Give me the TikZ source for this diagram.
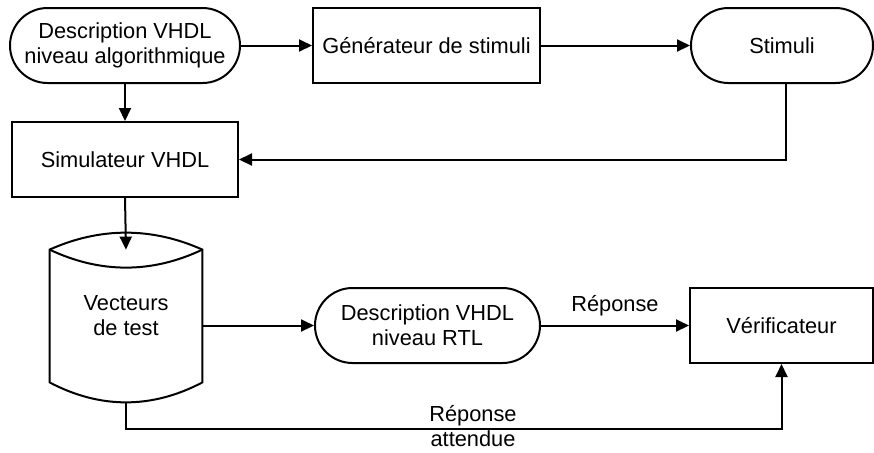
\documentclass[tikz,border=0pt]{standalone}
\usepackage{fontspec}
\setmainfont{Liberation Sans}
\usetikzlibrary{arrows.meta,shapes.misc}

\tikzset{
box/.style={rectangle, draw=black, line width=1pt, inner sep=0pt,
minimum height=37.5pt, font=\fontsize{10.9}{12.5}\selectfont, align=center},
term/.style={box, rounded rectangle},
arr/.style={line width=1pt, -{Triangle[length=6.5pt,width=6pt]}},
lbl/.style={font=\fontsize{10.9}{12.5}\selectfont, align=center, inner sep=0pt}
}

\begin{document}
\begin{tikzpicture}[x=0.5pt, y=-0.5pt]
% 1px = 0.5pt, y grows downwards
\useasboundingbox (0, 0) rectangle (874, 452);
\node[term, minimum width=115pt] (algo) at (125, 45.5) {Description VHDL\\niveau algorithmique};
\node[box, minimum width=113.5pt] (gen) at (426.5, 45.5) {Générateur de stimuli};
\node[term, minimum width=91pt] (stim) at (782, 45.5) {Stimuli};
\node[box, minimum width=113pt] (sim) at (125, 159.5) {Simulateur VHDL};
\node[lbl, minimum width=76pt, minimum height=66pt] (vect) at (126, 316) {Vecteurs\\de test};
	\draw[line width=1pt] (vect.north west) .. controls +(25.3pt, 11.3pt) and +(-25.3pt, 11.3pt) .. (vect.north east)
		-- (vect.south east) .. controls +(-25.3pt, -13.3pt) and +(25.3pt, -13.3pt) .. (vect.south west) -- cycle;
	\draw[line width=1pt] (vect.north west) .. controls +(25.3pt, -12pt) and +(-25.3pt, -12pt) .. (vect.north east);
	\coordinate (vbot) at ([yshift=-10pt]vect.south);
\node[term, minimum width=112.5pt] (rtl) at (427.5, 325.5) {Description VHDL\\niveau RTL};
\node[box, minimum width=91.5pt] (verif) at (781.5, 325.5) {Vérificateur};

\draw[arr] (algo.east) -- (gen.west);
\draw[arr] (gen.east) -- (stim.west);
\draw[arr] ([xshift=2pt]stim.south) |- (sim.east);
\draw[arr] (algo.south) -- (sim.north);
\draw[arr] (sim.south) -- (vect.north);
\draw[arr] (vect.east |- rtl.west) -- (rtl.west);
\draw[arr] (rtl.east) -- node[lbl, above=4pt] (rep) {Réponse} (verif.west);
\draw[arr] (vbot) -- ++(0, 27) coordinate (vcorner) -| (verif.south);
\node[lbl] (att) at (473, 426.5) {Réponse\\attendue};
\end{tikzpicture}
\end{document}
